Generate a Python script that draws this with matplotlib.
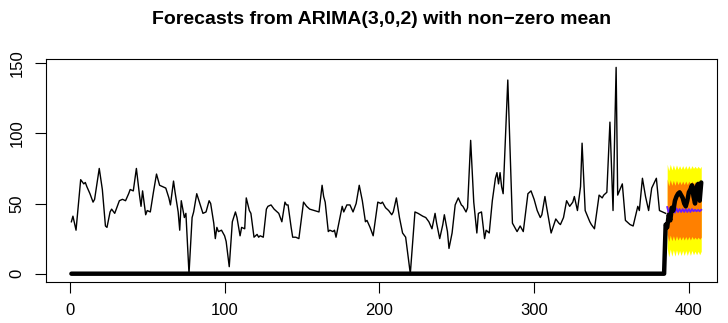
import matplotlib
matplotlib.use("Agg")
import matplotlib.pyplot as plt

plt.rcParams['font.family'] = ['Liberation Sans', 'DejaVu Sans']

# observed series (time index, value) at its turning points
obs_t = [1, 2, 4, 7, 9, 10, 11, 13, 15, 16, 19, 21, 23, 24, 26, 27, 29, 31, 32, 34,
         36, 38, 39, 41, 43, 45, 46, 47, 49, 50, 52, 54, 56, 58, 60, 62, 64, 65, 67, 68,
         70, 71, 72, 74, 75, 77, 79, 80, 82, 84, 86, 88, 90, 91, 93, 94, 95, 96, 98, 100,
         101, 103, 105, 107, 108, 110, 111, 113, 114, 116, 117, 119, 121, 122, 123, 125, 127, 128, 130, 132,
         135, 137, 139, 140, 141, 143, 144, 146, 148, 151, 153, 155, 158, 161, 163, 164, 165, 167, 168, 170,
         171, 172, 174, 176, 177, 179, 181, 183, 185, 187, 189, 191, 192, 194, 196, 199, 201, 202, 204, 206,
         208, 209, 211, 213, 215, 217, 220, 223, 225, 228, 230, 232, 234, 236, 237, 239, 241, 242, 244, 245,
         247, 249, 251, 253, 254, 256, 257, 259, 261, 263, 264, 266, 268, 269, 271, 273, 275, 276, 277, 278,
         279, 280, 283, 286, 287, 289, 291, 293, 296, 298, 300, 302, 304, 305, 307, 308, 311, 314, 316, 317,
         319, 321, 323, 325, 326, 328, 330, 331, 333, 336, 337, 339, 342, 344, 345, 347, 349, 351, 353, 354,
         357, 359, 361, 362, 364, 367, 368, 370, 372, 374, 376, 379, 381, 383, 385]
obs_v = [37, 41, 31, 67, 64, 65, 62, 57, 51, 53, 75, 60, 34, 33, 44, 46, 43, 49, 52, 53,
         52, 57, 60, 59, 75, 56, 48, 59, 42, 45, 44, 58, 71, 63, 62, 61, 54, 49, 66, 58,
         44, 31, 52, 40, 43, 0, 40, 44, 57, 50, 43, 44, 52, 50, 36, 25, 33, 30, 31, 27,
         23, 5, 37, 44, 40, 27, 33, 32, 54, 45, 43, 26, 28, 26, 27, 26, 46, 48, 49, 46,
         43, 37, 51, 49, 49, 33, 26, 26, 25, 51, 48, 46, 45, 44, 63, 55, 51, 30, 31, 30,
         31, 26, 37, 48, 44, 49, 49, 44, 50, 63, 52, 37, 38, 33, 27, 51, 50, 51, 47, 45,
         42, 44, 54, 40, 29, 26, 0, 44, 43, 41, 40, 37, 32, 43, 36, 25, 35, 42, 30, 18,
         29, 49, 54, 49, 48, 44, 47, 95, 51, 29, 43, 44, 25, 31, 29, 52, 68, 72, 64, 72,
         62, 57, 138, 36, 34, 30, 34, 30, 57, 59, 53, 45, 40, 42, 55, 48, 29, 39, 36, 35,
         40, 52, 48, 51, 55, 45, 62, 93, 45, 37, 35, 32, 56, 54, 56, 58, 108, 45, 147, 56,
         64, 38, 36, 35, 34, 48, 45, 68, 55, 45, 61, 68, 45, 44, 43]

# forecast horizon and intervals
fc_t = list(range(386, 409))
fc_mean = [47.5, 43.0, 47.0, 43.5, 46.5, 43.5, 46.5, 44.0, 46.0, 44.0, 46.0, 44.0,
           46.0, 44.0, 46.0, 44.0, 46.0, 44.5, 45.5, 44.5, 45.5, 44.5, 45.5]
hi95 = [78.0, 73.5, 78.0, 74.0, 77.5, 74.0, 77.5, 74.5, 77.0, 74.5, 77.0, 74.5,
        77.0, 74.5, 77.0, 74.5, 77.0, 75.0, 76.5, 75.0, 76.5, 75.0, 76.5]
lo95 = [18.0, 12.0, 17.5, 12.5, 17.0, 12.5, 17.0, 13.0, 16.5, 13.0, 16.5, 13.0,
        16.5, 13.0, 16.5, 13.0, 16.5, 13.5, 16.0, 13.5, 16.0, 13.5, 16.0]
hi80 = [67.5, 62.5, 67.0, 63.0, 66.5, 63.0, 66.5, 63.5, 66.0, 63.5, 66.0, 63.5,
        66.0, 63.5, 66.0, 63.5, 66.0, 64.0, 65.5, 64.0, 65.5, 64.0, 65.5]
lo80 = [28.0, 23.0, 27.5, 23.5, 27.0, 23.5, 27.0, 24.0, 26.5, 24.0, 26.5, 24.0,
        26.5, 24.0, 26.5, 24.0, 26.5, 24.5, 26.0, 24.5, 26.0, 24.5, 26.0]

# held-out actuals, zero over the training span
act_t = [1, 384] + list(range(385, 409))
act_v = [0, 0, 35, 33, 42, 38, 47, 45, 52, 55, 57, 58, 56, 54, 50, 48, 52, 58,
         60, 63, 55, 50, 62, 64, 52, 65]

fig = plt.figure(figsize=(7.28, 3.23), dpi=100)
ax = fig.add_axes([0.0632, 0.127, 0.9213, 0.690])

ax.fill_between(fc_t, lo95, hi95, color='#ffff00', linewidth=0)
ax.fill_between(fc_t, lo80, hi80, color='#ff8000', linewidth=0)
ax.plot(fc_t, fc_mean, color='#6a1bff', linewidth=1.3)
ax.plot(obs_t, obs_v, color='black', linewidth=1.0)
ax.plot(act_t, act_v, color='black', linewidth=3.2, solid_capstyle='round')

ax.set_xlim(-15.4, 418)
ax.set_ylim(-5.9, 152.9)
ax.set_xticks([0, 100, 200, 300, 400])
ax.set_yticks([0, 50, 100, 150])
ax.tick_params(direction='out', length=7.9, width=0.8, labelsize=12, pad=7.5)
ax.tick_params(axis='y', labelrotation=90)
for lab in ax.get_yticklabels():
    lab.set_verticalalignment('center')
for sp in ax.spines.values():
    sp.set_linewidth(0.8)

fig.text(0.524, 1 - 20 / 323, 'Forecasts from ARIMA(3,0,2) with non\u2212zero mean',
         ha='center', va='center', fontsize=14, fontweight='bold')

fig.savefig('out.png', dpi=100)
